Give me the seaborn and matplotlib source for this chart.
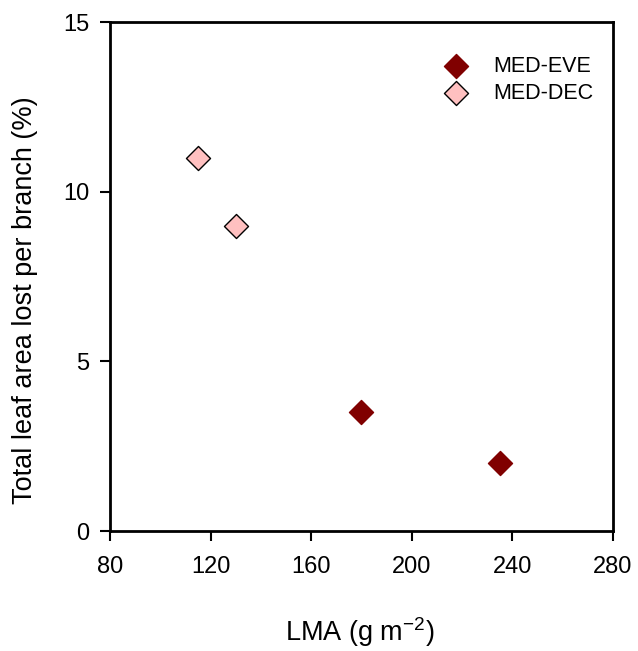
import matplotlib
matplotlib.use("Agg")
import matplotlib.pyplot as plt
import seaborn as sns
import pandas as pd

# Leaf mass per area vs. leaf area lost, by functional group
groups = ["MED-EVE", "MED-EVE", "MED-DEC", "MED-DEC"]
lma = [180, 235, 115, 130]
leaf_area_lost = [3.5, 2.0, 11.0, 9.0]

x_ticks = [80, 120, 160, 200, 240, 280]
y_ticks = [0, 5, 10, 15]

df = pd.DataFrame({"group": groups, "LMA": lma, "loss": leaf_area_lost})

sns.set_style("ticks")
plt.rcParams["font.family"] = ["Liberation Sans", "DejaVu Sans"]
plt.rcParams["mathtext.default"] = "regular"
plt.rcParams["text.color"] = "black"
plt.rcParams["axes.labelcolor"] = "black"
plt.rcParams["xtick.color"] = "black"
plt.rcParams["ytick.color"] = "black"

fig = plt.figure(figsize=(6.38, 6.51), dpi=100)
ax = fig.add_axes([0.1724, 0.1843, 0.7884, 0.7819])

palette = {"MED-EVE": "#800000", "MED-DEC": "#FFC0C0"}
edges = {"MED-EVE": "#800000", "MED-DEC": "black"}
for grp in ["MED-EVE", "MED-DEC"]:
    sub = df[df["group"] == grp]
    sns.scatterplot(data=sub, x="LMA", y="loss", color=palette[grp],
                    marker="D", s=150, edgecolor=edges[grp], linewidth=1.0,
                    ax=ax, zorder=3, clip_on=False, label=grp)

ax.set_xlim(80, 280)
ax.set_ylim(0, 15)
ax.set_xticks(x_ticks)
ax.set_yticks(y_ticks)
ax.tick_params(direction="out", length=7, width=1.5, labelsize=17)
ax.tick_params(axis="x", pad=11)
ax.tick_params(axis="y", pad=8)
for side in ["left", "bottom", "top", "right"]:
    ax.spines[side].set_visible(True)
    ax.spines[side].set_linewidth(2.0)
    ax.spines[side].set_color("black")

ax.set_xlabel("LMA (g m$^{-2}$)", fontsize=19.5)
ax.set_ylabel("Total leaf area lost per branch (%)", fontsize=19.5)
ax.xaxis.set_label_coords(0.497, -0.165)
ax.yaxis.set_label_coords(-0.143, 0.454)

leg = ax.legend(loc="upper right", frameon=False, fontsize=15.5,
                bbox_to_anchor=(0.999, 0.972), handletextpad=0.9,
                labelspacing=0.3, markerscale=1.0, handlelength=1.6)

fig.savefig("out.png", dpi=100)
